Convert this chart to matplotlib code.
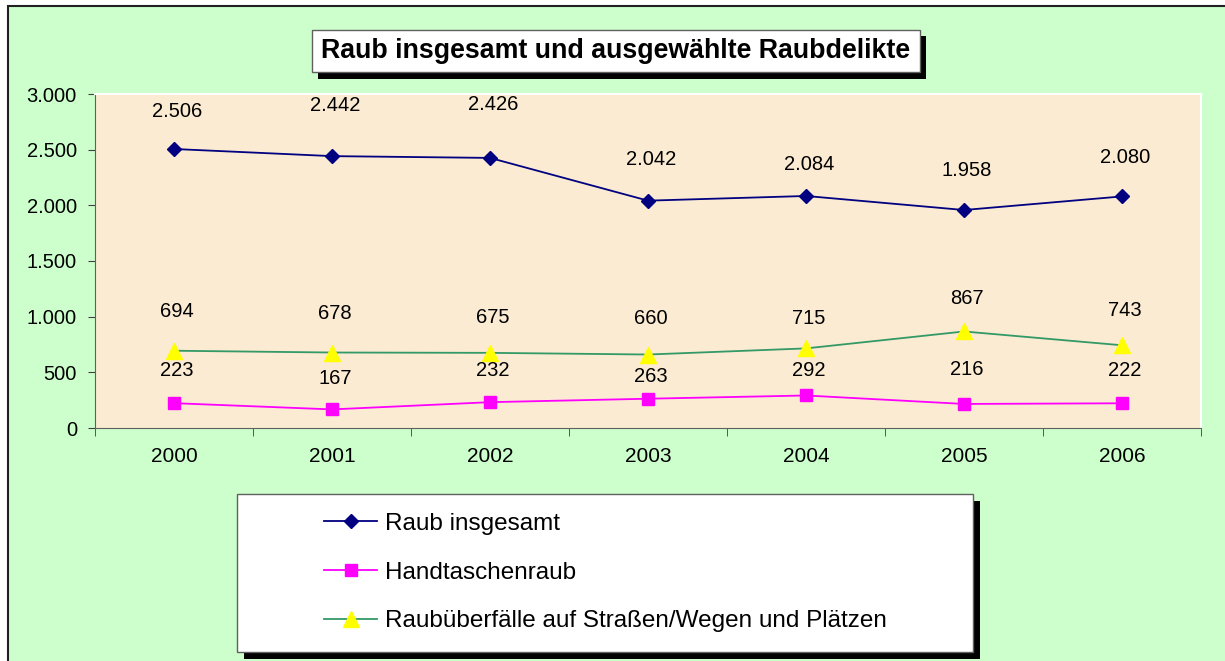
import matplotlib.pyplot as plt
from matplotlib.patches import Rectangle
from matplotlib.lines import Line2D
from matplotlib.ticker import FuncFormatter

plt.rcParams['font.family'] = ['Liberation Sans', 'DejaVu Sans']

years = ['2000', '2001', '2002', '2003', '2004', '2005', '2006']
raub_gesamt = [2506, 2442, 2426, 2042, 2084, 1958, 2080]
handtaschenraub = [223, 167, 232, 263, 292, 216, 222]
strassenraub = [694, 678, 675, 660, 715, 867, 743]

# vertical offsets (px) of the data labels above their points
raub_dy = [37, 51, 53, 41, 31, 40, 39]
hand_dy = [33, 31, 32, 22, 25, 34, 33]
strasse_dy = [39, 39, 35, 36, 30, 33, 35]

W, H = 1225, 661
fig = plt.figure(figsize=(W / 100, H / 100), dpi=100)
fig.patch.set_facecolor('white')


def px_rect(x0, y0, x1, y1, **kw):
    # rectangle given in pixel coords (top-left origin)
    return Rectangle((x0 / W, 1 - y1 / H), (x1 - x0) / W, (y1 - y0) / H,
                     transform=fig.transFigure, **kw)


# green chart area with dark border on left/top
fig.patches.append(px_rect(8, 6, W + 5, H + 5, facecolor='#ccffcc',
                           edgecolor='#202020', linewidth=1.5, zorder=-10))

ax = fig.add_axes([95 / W, 1 - 428 / H, 1106 / W, 334 / H])
ax.set_facecolor('#fbebd2')

x = list(range(len(years)))
ax.plot(x, raub_gesamt, color='#000080', marker='D', markersize=7.5, lw=1.3)
ax.plot(x, handtaschenraub, color='#ff00ff', marker='s', markersize=8.5, lw=1.3)
ax.plot(x, strassenraub, color='#339966', marker='^', markersize=11, lw=1.3,
        markerfacecolor='#ffff00', markeredgecolor='#ffff00')

fmt = lambda v: f'{v:,.0f}'.replace(',', '.')
for series, dys in ((raub_gesamt, raub_dy), (handtaschenraub, hand_dy),
                    (strassenraub, strasse_dy)):
    for xi, v, dy in zip(x, series, dys):
        ax.annotate(fmt(v), (xi, v), xytext=(3 * 0.72, dy * 0.72),
                    textcoords='offset points', ha='center', va='center',
                    fontsize=14.5, color='black')

ax.set_xlim(-0.5, len(years) - 0.5)
ax.set_ylim(0, 3000)
ax.set_yticks(range(0, 3001, 500))
ax.yaxis.set_major_formatter(FuncFormatter(lambda v, p: fmt(v)))
ax.set_xticks(x)
ax.set_xticklabels(years)
ax.set_xticks([i - 0.5 for i in range(len(years) + 1)], minor=True)
ax.tick_params(axis='x', which='major', length=0, pad=14, labelsize=15)
ax.tick_params(axis='x', which='minor', length=6, color='#404040')
ax.tick_params(axis='y', length=5, color='#404040', labelsize=14.5, pad=8)
for s in ('top', 'right'):
    ax.spines[s].set_color('white')
    ax.spines[s].set_linewidth(1.5)
for s in ('left', 'bottom'):
    ax.spines[s].set_color('#606060')

# title box with shadow
fig.patches.append(px_rect(318, 36, 926, 79, facecolor='black', zorder=3))
fig.patches.append(px_rect(312, 30, 920, 72, facecolor='white',
                           edgecolor='#606060', linewidth=1, zorder=4))
fig.text(616 / W, 1 - 51 / H, 'Raub insgesamt und ausgewählte Raubdelikte',
         ha='center', va='center', fontsize=19.3, fontweight='bold', zorder=5)

# legend box with shadow
fig.patches.append(px_rect(244, 501, 980, 659, facecolor='black', zorder=3))
fig.patches.append(px_rect(237, 494, 973, 652, facecolor='white',
                           edgecolor='#606060', linewidth=1, zorder=4))
handles = [
    Line2D([], [], color='#000080', marker='D', markersize=7.5, lw=1.3),
    Line2D([], [], color='#ff00ff', marker='s', markersize=8.5, lw=1.3),
    Line2D([], [], color='#339966', marker='^', markersize=11, lw=1.3,
           markerfacecolor='#ffff00', markeredgecolor='#ffff00'),
]
labels = ['Raub insgesamt', 'Handtaschenraub',
          'Raubüberfälle auf Straßen/Wegen und Plätzen']
leg = fig.legend(handles, labels, loc='upper left',
                 bbox_to_anchor=(302 / W, 1 - 491 / H), frameon=False,
                 fontsize=17.5, handlelength=2.2, handletextpad=0.3,
                 labelspacing=1.1)
leg.set_zorder(6)

fig.savefig('out.png', dpi=100)
